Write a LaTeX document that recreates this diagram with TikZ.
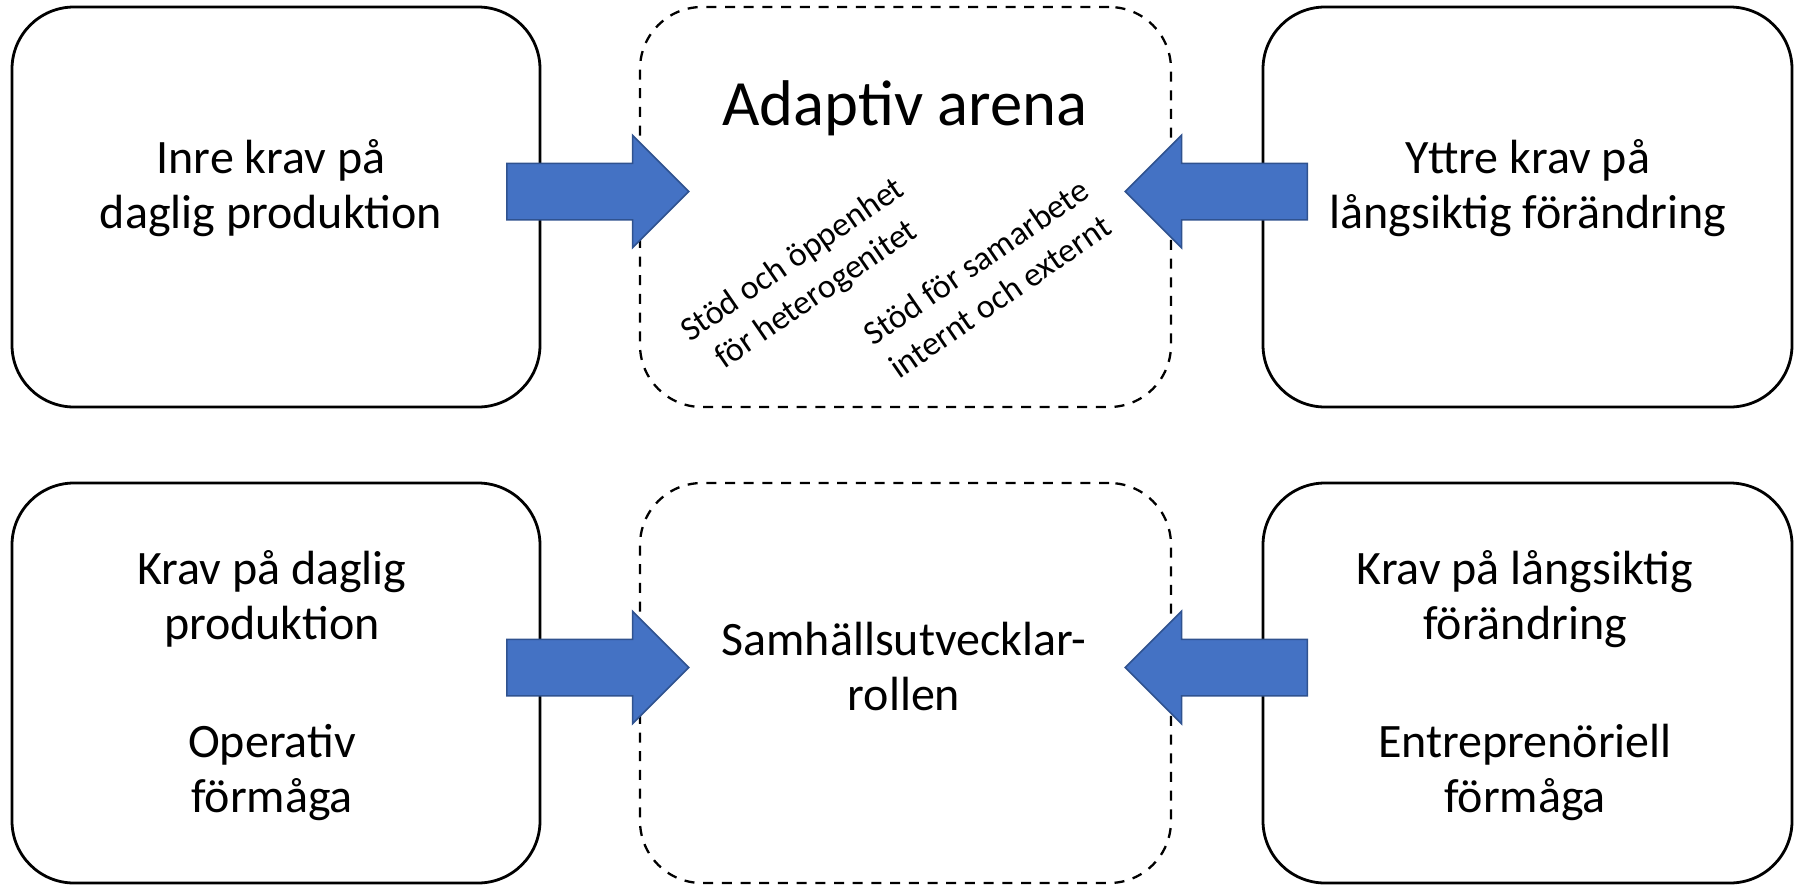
\documentclass[tikz,border=0pt]{standalone}
\usepackage{fontspec}
\setmainfont{Carlito}
\usetikzlibrary{shapes.arrows}
\definecolor{arrowfill}{HTML}{4472C4}
\definecolor{arrowline}{HTML}{2F528F}
\begin{document}
\begin{tikzpicture}[x=0.5pt,y=-0.5pt,
  panel/.style={draw=black, line width=1.4pt, rounded corners=31pt,
    minimum height=200pt, inner sep=0pt},
  arena/.style={draw=black, line width=1.15pt, rounded corners=31pt,
    dash pattern=on 5pt off 4.35pt, minimum height=200pt, inner sep=0pt},
  label/.style={font=\fontsize{24}{27.5}\selectfont, align=center, inner sep=0pt},
  title/.style={font=\fontsize{32.3}{38}\selectfont, inner sep=0pt},
  slanted/.style={font=\fontsize{17}{21}\selectfont, align=center, inner sep=0pt, rotate=34.5},
  blockarrow/.style={shape=single arrow, draw=arrowline, fill=arrowfill, line width=0.75pt,
    minimum height=91pt, minimum width=55.5pt, single arrow head extend=14pt,
    single arrow tip angle=90, inner xsep=0pt, inner ysep=13.75pt}
]
\useasboundingbox (0,0) rectangle (1803,884);

% upper row
\node[panel, minimum width=264pt] (inre) at (276,207) {};
\node[arena, minimum width=265.5pt] (arena) at (905.5,207) {};
\node[panel, minimum width=264.5pt] (yttre) at (1527.5,207) {};

% lower row
\node[panel, minimum width=264pt] (daglig) at (276,683) {};
\node[arena, minimum width=265.5pt] (roll) at (905.5,683) {};
\node[panel, minimum width=264.5pt] (lang) at (1527.5,683) {};

% block arrows pointing into the middle boxes
\node[blockarrow, anchor=tail] (a1) at (506,191.5) {};
\node[blockarrow, anchor=tail, shape border rotate=180] (a2) at (1308,191.5) {};
\node[blockarrow, anchor=tail] (a3) at (506,667.5) {};
\node[blockarrow, anchor=tail, shape border rotate=180] (a4) at (1308,667.5) {};

% texts
\node[label] (t1) at (271,188) {Inre krav på\\daglig produktion};
\node[label] (t2) at (1528,188) {Yttre krav på\\långsiktig förändring};
\node[title, anchor=base] (t3) at (905,125) {Adaptiv arena};
\node[slanted] (t4) at (805,278) {Stöd och öppenhet\\för heterogenitet};
\node[slanted] (t5) at (988,279) {Stöd för samarbete\\internt och externt};

\node[label] (t6) at (272,686) {Krav på daglig\\produktion\\[31.5pt]Operativ\\förmåga};
\node[label] (t7) at (904,666) {Samhällsutvecklar-\\rollen};
\node[label] (t8) at (1525,686) {Krav på långsiktig\\förändring\\[31.5pt]Entreprenöriell\\förmåga};
\end{tikzpicture}
\end{document}
